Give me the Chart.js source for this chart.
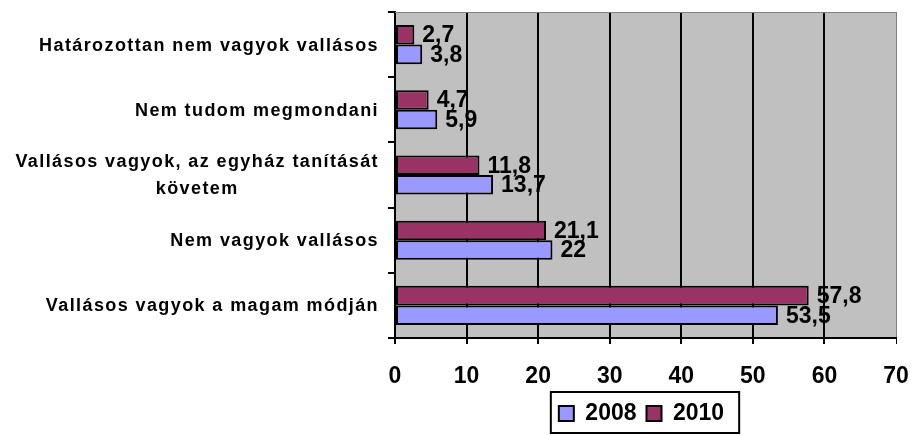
<!DOCTYPE html>
<html><head><meta charset="utf-8">
<script src="https://cdn.jsdelivr.net/npm/chart.js@4.4.1/dist/chart.umd.min.js"></script>
<style>html,body{margin:0;padding:0;background:#fff}#wrap{width:914px;height:435px}</style>
</head><body><div id="wrap"><canvas id="c" width="914" height="435"></canvas></div>
<script>
const categories = [
  'Határozottan nem vagyok vallásos',
  'Nem tudom megmondani',
  ['Vallásos vagyok, az egyház tanítását', 'követem'],
  'Nem vagyok vallásos',
  'Vallásos vagyok a magam módján'
];
const values2008 = [3.8, 5.9, 13.7, 22, 53.5];
const values2010 = [2.7, 4.7, 11.8, 21.1, 57.8];
const xTicks = [0, 10, 20, 30, 40, 50, 60, 70];
const seriesNames = ['2010', '2008'];

const FONT = "'Liberation Sans', Arial, sans-serif";

const areaPlugin = {
  id: 'area',
  beforeDraw(chart) {
    const {ctx, chartArea: a} = chart;
    ctx.save();
    ctx.fillStyle = '#C0C0C0';
    ctx.fillRect(a.left, a.top, a.right - a.left, a.bottom - a.top);
    ctx.restore();
  },
  beforeDatasetsDraw(chart) {
    const {ctx, chartArea: a} = chart;
    ctx.save();
    ctx.strokeStyle = '#808080';
    ctx.lineWidth = 1;
    ctx.beginPath();
    ctx.moveTo(a.left, a.top + 0.5);
    ctx.lineTo(a.right, a.top + 0.5);
    ctx.stroke();
    ctx.restore();
  },
  afterDatasetsDraw(chart) {
    const {ctx} = chart;
    ctx.save();
    ctx.fillStyle = '#000';
    ctx.font = 'bold 23px ' + FONT;
    ctx.textAlign = 'left';
    ctx.textBaseline = 'middle';
    chart.data.datasets.forEach((ds, di) => {
      const meta = chart.getDatasetMeta(di);
      meta.data.forEach((el, i) => {
        const txt = String(ds.data[i]).replace('.', ',');
        ctx.fillText(txt, el.x + 8, el.y + 1);
      });
    });
    // category labels
    const y = chart.scales.y;
    ctx.font = 'bold 18px ' + FONT;
    ctx.letterSpacing = '1.4px';
    ctx.textAlign = 'center';
    const rightEdge = 379;
    const lineH = 27;
    categories.forEach((lab, i) => {
      const lines = Array.isArray(lab) ? lab : [lab];
      const maxW = Math.max(...lines.map(l => ctx.measureText(l).width));
      const cx = rightEdge - maxW / 2;
      const cy = y.getPixelForValue(i);
      lines.forEach((l, k) => {
        ctx.fillText(l, cx, cy + (k - (lines.length - 1) / 2) * lineH + 1);
      });
    });
    ctx.restore();
  },
  afterDraw(chart) {
    const lg = chart.legend;
    const hb = lg && lg.legendHitBoxes;
    if (!hb || !hb.length) return;
    const {ctx} = chart;
    const left = Math.min(...hb.map(h => h.left)) - 8;
    const right = Math.max(...hb.map(h => h.left + h.width)) + 15;
    const top = lg.top;
    ctx.save();
    ctx.strokeStyle = '#000';
    ctx.lineWidth = 2;
    ctx.strokeRect(left, top, right - left, 433 - top);
    ctx.restore();
  }
};

new Chart(document.getElementById('c'), {
  type: 'bar',
  data: {
    labels: categories,
    datasets: [
      {label: seriesNames[0], data: values2010, backgroundColor: '#993366', borderColor: '#000', borderWidth: 2,
       barPercentage: 1, categoryPercentage: 0.6, borderSkipped: false},
      {label: seriesNames[1], data: values2008, backgroundColor: '#9999FF', borderColor: '#000', borderWidth: 2,
       barPercentage: 1, categoryPercentage: 0.6, borderSkipped: false}
    ]
  },
  options: {
    indexAxis: 'y',
    responsive: false,
    animation: false,
    layout: {padding: {left: 387, right: 18, top: 12, bottom: 0}},
    scales: {
      x: {
        min: 0, max: 70,
        afterBuildTicks: s => { s.ticks = xTicks.map(v => ({value: v})); },
        afterFit: s => { s.height = 54; s.paddingRight = 0; s.paddingLeft = 0; },
        grid: {
          color: c => (c.tick && c.tick.value === 70) ? '#808080' : '#000',
          lineWidth: c => (c.tick && c.tick.value === 70) ? 1 : 2,
          tickColor: '#000',
          tickLength: 6
        },
        border: {color: '#000', width: 2},
        ticks: {color: '#000', font: {family: FONT, size: 23, weight: 'bold'}, padding: 19, maxRotation: 0}
      },
      y: {
        afterFit: s => { s.width = 8; },
        grid: {drawOnChartArea: false, color: '#000', lineWidth: 2, tickLength: 7, offset: true},
        border: {color: '#000', width: 2},
        ticks: {display: false}
      }
    },
    plugins: {
      legend: {
        position: 'bottom',
        labels: {
          color: '#000',
          font: {family: FONT, size: 23, weight: 'bold'},
          boxWidth: 15, boxHeight: 15, padding: 10,
          sort: (a, b) => b.datasetIndex - a.datasetIndex
        }
      },
      tooltip: {enabled: false}
    }
  },
  plugins: [areaPlugin]
});
</script>
</body></html>
